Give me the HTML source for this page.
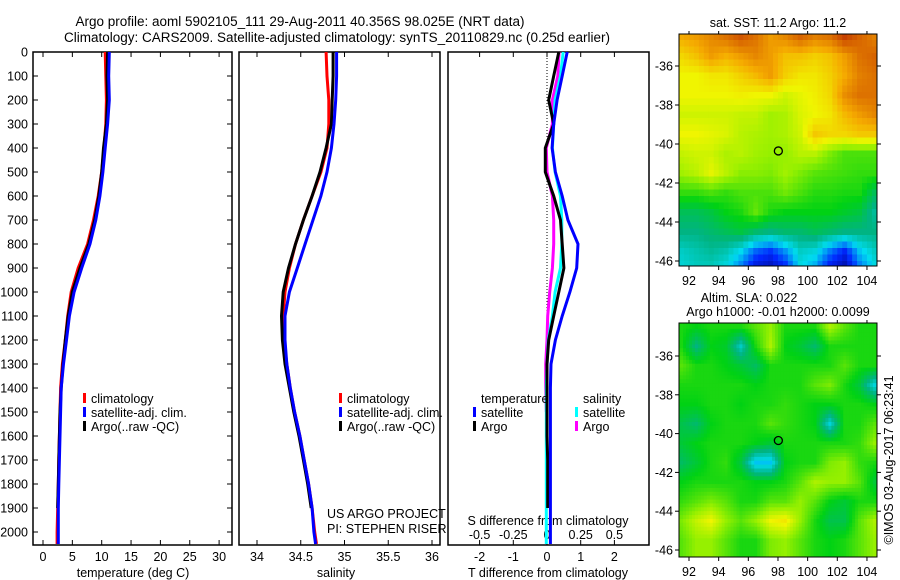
<!DOCTYPE html>
<html><head><meta charset="utf-8"><style>
body{margin:0;background:#fff}
svg{display:block}
text{font-family:"Liberation Sans",sans-serif;fill:#000}
</style></head><body>
<svg id="c" width="900" height="580" viewBox="0 0 900 580">
<defs>
<clipPath id="clip1"><rect x="679" y="34" width="198" height="232"/></clipPath>
<clipPath id="clip2"><rect x="679" y="323" width="198" height="234"/></clipPath>
</defs>
<text x="300" y="26" text-anchor="middle" font-size="13.5">Argo profile: aoml 5902105_111 29-Aug-2011 40.356S 98.025E (NRT data)</text>
<text x="337" y="42" text-anchor="middle" font-size="13.5">Climatology: CARS2009. Satellite-adjusted climatology: synTS_20110829.nc (0.25d earlier)</text>
<g id="g"></g>
</svg>
<script>
// ---- profile data ----
const depths=[0,100,200,300,400,500,600,700,800,900,1000,1100,1200,1300,1400,1500,1600,1700,1800,1900,2000,2050];
const tempClim=[10.6,10.7,10.8,10.7,10.4,10.0,9.4,8.6,7.6,6.0,4.8,4.2,3.8,3.3,3.0,2.9,2.8,2.7,2.6,2.5,2.4,2.4];
const tempSat=[11.3,11.2,11.3,11.0,10.6,10.2,9.7,9.0,8.0,6.6,5.3,4.5,4.0,3.5,3.1,3.0,2.9,2.8,2.7,2.6,2.6,2.6];
const tempArgo=[11.0,10.9,11.0,10.8,10.3,10.0,9.5,8.8,7.8,6.3,5.0,4.3,3.8,3.4,3.1,2.9,2.8,2.7,2.6,2.5];
const salClim=[34.79,34.80,34.82,34.82,34.80,34.73,34.63,34.53,34.44,34.37,34.32,34.30,34.31,34.34,34.38,34.43,34.49,34.54,34.59,34.63,34.66,34.68];
const salSat=[34.91,34.91,34.90,34.88,34.85,34.80,34.73,34.64,34.55,34.46,34.37,34.32,34.32,34.34,34.38,34.43,34.49,34.54,34.59,34.63,34.65,34.67];
const salArgo=[34.87,34.87,34.86,34.85,34.79,34.72,34.63,34.53,34.44,34.36,34.30,34.28,34.29,34.32,34.37,34.42,34.48,34.53,34.58,34.62];
const dTSat=[0.6,0.45,0.3,0.2,0.15,0.25,0.45,0.62,0.92,0.88,0.68,0.45,0.25,0.12,0.1,0.1,0.1,0.1,0.1,0.1,0.1,0.1];
const dTArgo=[0.35,0.2,0.05,0.2,-0.05,-0.05,0.2,0.4,0.45,0.5,0.35,0.2,0.05,0,0,0,0,0.02,0.02,0.02];
const dSSat=[0.12,0.10,0.06,0.05,0.04,0.06,0.10,0.11,0.11,0.10,0.06,0.04,0.01,0,-0.005,-0.005,-0.005,-0.005,-0.005,-0.005,-0.005,-0.005];
const dSArgo=[0.09,0.08,0.04,0.04,-0.005,0,0.04,0.05,0.05,0.04,0.02,0.005,0,-0.01,-0.01,-0.005];
const depthTicks=[0,100,200,300,400,500,600,700,800,900,1000,1100,1200,1300,1400,1500,1600,1700,1800,1900,2000];
const tempTicks=[0,5,10,15,20,25,30];
const salTicks=[34,34.5,35,35.5,36];
const dTTicks=[-2,-1,0,1,2];
const dSTicks=[-0.5,-0.25,0,0.25,0.5];
// ---- map data ----
const mapLons=[91.5,92.5,93.5,94.5,95.5,96.5,97.5,98.5,99.5,100.5,101.5,102.5,103.5,104.5];
const mapLats=[-34.5,-35.5,-36.5,-37.5,-38.5,-39.5,-40.5,-41.5,-42.5,-43.5,-44.5,-45.5,-46.5];
const lonTicks=[92,94,96,98,100,102,104];
const latTicks=[-36,-38,-40,-42,-44,-46];
const sstGrid=[
[.8,.82,.85,.88,.92,.88,.82,.85,.9,.86,.88,.95,.9,.86],
[.74,.77,.82,.79,.82,.85,.82,.77,.77,.75,.77,.82,.88,.9],
[.7,.7,.72,.72,.75,.78,.82,.75,.72,.72,.75,.8,.86,.88],
[.7,.7,.7,.7,.71,.7,.7,.67,.69,.71,.74,.84,.88,.88],
[.67,.67,.67,.67,.66,.66,.63,.64,.68,.7,.72,.78,.82,.85],
[.7,.7,.69,.68,.65,.64,.63,.64,.67,.76,.74,.74,.76,.76],
[.66,.67,.67,.64,.65,.63,.62,.62,.65,.65,.6,.56,.56,.56],
[.63,.65,.69,.65,.61,.61,.6,.63,.6,.57,.56,.55,.54,.54],
[.54,.54,.56,.54,.56,.56,.56,.59,.56,.53,.53,.52,.52,.44],
[.44,.44,.46,.5,.52,.58,.52,.5,.5,.5,.5,.48,.46,.38],
[.4,.4,.42,.44,.46,.42,.4,.42,.42,.44,.42,.4,.4,.4],
[.34,.36,.38,.36,.3,.2,.16,.24,.34,.32,.22,.14,.28,.34],
[.32,.34,.34,.3,.2,.08,.05,.12,.3,.24,.1,.04,.2,.3]];
const slaGrid=[
[.52,.5,.52,.52,.52,.57,.62,.52,.52,.52,.64,.57,.52,.52],
[.52,.4,.5,.48,.34,.52,.64,.5,.47,.42,.52,.52,.52,.52],
[.57,.52,.52,.5,.47,.43,.52,.52,.52,.52,.52,.57,.52,.52],
[.52,.52,.52,.52,.52,.5,.52,.52,.52,.57,.6,.52,.46,.32],
[.5,.5,.52,.52,.5,.52,.52,.54,.52,.5,.5,.52,.52,.5],
[.45,.42,.5,.52,.52,.52,.57,.54,.52,.5,.32,.52,.52,.57],
[.47,.5,.52,.52,.52,.5,.47,.52,.52,.52,.52,.52,.54,.62],
[.43,.47,.52,.54,.46,.28,.28,.5,.52,.52,.6,.62,.54,.52],
[.5,.52,.52,.52,.52,.5,.5,.52,.57,.64,.62,.62,.57,.47],
[.54,.57,.6,.57,.52,.52,.57,.57,.62,.57,.5,.47,.52,.52],
[.6,.66,.7,.62,.57,.62,.7,.72,.62,.52,.45,.45,.57,.64],
[.57,.62,.62,.57,.52,.52,.6,.62,.57,.52,.5,.52,.57,.62],
[.57,.62,.62,.57,.52,.52,.6,.62,.57,.52,.5,.52,.57,.62]];
const argoLon=98.025, argoLat=-40.356;

const NS='http://www.w3.org/2000/svg';
const G=document.getElementById('g');
function mk(tag,attrs,parent){const e=document.createElementNS(NS,tag);for(const k in attrs)e.setAttribute(k,attrs[k]);(parent||G).appendChild(e);return e;}
function txt(x,y,s,anchor,size,parent){const t=mk('text',{x:x,y:y,'text-anchor':anchor||'middle','font-size':size||12.5},parent);t.textContent=s;return t;}

const yD=d=>52+d*0.24;
const PB=545;
const xT=v=>43+v*5.87;
const xS=v=>257+(v-34)*87.5;
const xDT=v=>547+v*33.7;
const xDS=v=>547+v*134.8;

const panels=[[33,232,'temperature-panel'],[239,440,'salinity-panel'],[448,649,'difference-panel']];
panels.forEach(p=>{
 const r=mk('rect',{x:p[0],y:52,width:p[1]-p[0],height:PB-52,fill:'none',stroke:'#000','stroke-width':1.5});
 
 
});
depthTicks.forEach(d=>{
 mk('line',{x1:33,x2:38,y1:yD(d),y2:yD(d),stroke:'#000'});
 mk('line',{x1:227,x2:232,y1:yD(d),y2:yD(d),stroke:'#000'});
 const t=txt(28,yD(d)+4.5,String(d),'end');
 
 
});
function xaxis(ticks,fx,y){
 ticks.forEach(v=>{const x=fx(v);
  mk('line',{x1:x,x2:x,y1:PB,y2:PB-5,stroke:'#000'});
  mk('line',{x1:x,x2:x,y1:52,y2:57,stroke:'#000'});
  const t=txt(x,y,String(v));
  
  
 });
}
xaxis(tempTicks,xT,561);
xaxis(salTicks,xS,561);
xaxis(dTTicks,xDT,561);
dSTicks.forEach(v=>{const t=txt(xDS(v),539,String(v));
 
 });
let t;
t=txt(133,577,'temperature (deg C)');
t=txt(336,577,'salinity');
t=txt(548,577,'T difference from climatology');
t=txt(548,525,'S difference from climatology');
t=txt(327,518,'US ARGO PROJECT','start');
t=txt(327,533,'PI: STEPHEN RISER','start');
mk('line',{x1:547,x2:547,y1:52,y2:PB,stroke:'#000','stroke-dasharray':'1,2','stroke-width':1});

function line(vals,fx,color,name){
 const pts=vals.map((v,i)=>fx(v).toFixed(1)+','+yD(depths[i]).toFixed(1)).join(' ');
 const l=mk('polyline',{points:pts,fill:'none',stroke:color,'stroke-width':3});
 
 
}
line(tempClim,xT,'#f00','temp-climatology-line');
line(tempArgo,xT,'#000','temp-argo-line');
line(tempSat,xT,'#00f','temp-satellite-line');
line(salClim,xS,'#f00','sal-climatology-line');
line(salArgo,xS,'#000','sal-argo-line');
line(salSat,xS,'#00f','sal-satellite-line');
line(dSArgo,xDS,'#f0f','sdiff-argo-line');
line(dSSat,xDS,'#0ff','sdiff-satellite-line');
line(dTArgo,xDT,'#000','tdiff-argo-line');
line(dTSat,xDT,'#00f','tdiff-satellite-line');

function legItem(x,y,color,label,name){
 mk('rect',{x:x,y:y-10,width:3,height:10,fill:color});
 const tt=txt(x+8,y,label,'start');
 
 
}
[[83],[339]].forEach(p=>{
 legItem(p[0],403,'#f00','climatology','legend-climatology');
 legItem(p[0],417,'#00f','satellite-adj. clim.','legend-satellite');
 legItem(p[0],431,'#000','Argo(..raw -QC)','legend-argo');
});
t=txt(481,403,'temperature','start');
t=txt(583,403,'salinity','start');
legItem(473,417,'#00f','satellite','legend-t-satellite');
legItem(473,431,'#000','Argo','legend-t-argo');
legItem(575,417,'#0ff','satellite','legend-s-satellite');
legItem(575,431,'#f0f','Argo','legend-s-argo');

// maps
const stops=[[0,[0,0,120]],[.15,[0,40,255]],[.3,[0,220,240]],[.4,[0,180,130]],[.5,[0,210,20]],[.62,[150,240,0]],[.7,[240,245,0]],[.8,[245,170,0]],[.9,[215,100,0]],[1,[180,30,0]]];
function cmap(v){for(let i=1;i<stops.length;i++){if(v<=stops[i][0]){const a=stops[i-1],b=stops[i];const f=(v-a[0])/(b[0]-a[0]);const c=a[1].map((x,k)=>Math.round(x+(b[1][k]-x)*f));return 'rgb('+c.join(',')+')';}}return 'rgb(180,30,0)';}
const xL=lon=>689+(lon-92)*14.83;
function sample(grid,fi,fj){
 const ni=grid.length,nj=grid[0].length;
 fi=Math.max(0,Math.min(ni-1,fi));fj=Math.max(0,Math.min(nj-1,fj));
 const i0=Math.floor(fi),j0=Math.floor(fj),i1=Math.min(ni-1,i0+1),j1=Math.min(nj-1,j0+1);
 const a=fi-i0,b=fj-j0;
 return grid[i0][j0]*(1-a)*(1-b)+grid[i0][j1]*(1-a)*b+grid[i1][j0]*a*(1-b)+grid[i1][j1]*a*b;
}
function drawMap(grid,yLat,clip,sub,top,bottom,name){
 const g=mk('g',{'clip-path':'url(#'+clip+')'});
 
 
 const step=1/sub;
 for(let la=-34; la>-47; la-=step){
  for(let lo=91; lo<105; lo+=step){
   const cLa=la-step/2,cLo=lo+step/2;
   const fi=(mapLats[0]-cLa), fj=(cLo-mapLons[0]);
   const v=sample(grid,fi,fj);
   const x0=xL(lo),x1=xL(lo+step),y0=yLat(la),y1=yLat(la-step);
   const c=mk('rect',{x:x0.toFixed(2),y:y0.toFixed(2),width:(x1-x0+0.5).toFixed(2),height:(y1-y0+0.5).toFixed(2),fill:cmap(v)},g);
   
   
  }
 }
 mk('rect',{x:679,y:top,width:198,height:bottom-top,fill:'none',stroke:'#000','stroke-width':1});
 lonTicks.forEach(lo=>{const x=xL(lo);
  mk('line',{x1:x,x2:x,y1:bottom,y2:bottom+4,stroke:'#000'});
  mk('line',{x1:x,x2:x,y1:top,y2:top-3,stroke:'#000'});
  const tl=txt(x,bottom+19,String(lo));});
 latTicks.forEach(la=>{const y=yLat(la);
  mk('line',{x1:675,x2:679,y1:y,y2:y,stroke:'#000'});
  mk('line',{x1:877,x2:881,y1:y,y2:y,stroke:'#000'});
  const tl=txt(673,y+4.5,String(la),'end');});
 const m=mk('circle',{cx:xL(argoLon),cy:yLat(argoLat),r:4,fill:'none',stroke:'#000','stroke-width':1.3});
 
 
}
drawMap(sstGrid,la=>66+(-36-la)*19.5,'clip1',3,34,266,'sst-map');
drawMap(slaGrid,la=>356+(-36-la)*19.4,'clip2',5,323,557,'sla-map');
t=txt(778,27,'sat. SST: 11.2 Argo: 11.2','middle',12.5);
t=txt(749,302,'Altim. SLA: 0.022','middle',12.5);
t=txt(778,316,'Argo h1000: -0.01 h2000: 0.0099','middle',12.5);
t=txt(0,0,'©IMOS 03-Aug-2017 06:23:41','middle',12.5);t.setAttribute('transform','translate(893,460) rotate(-90)');

</script>
</body></html>
